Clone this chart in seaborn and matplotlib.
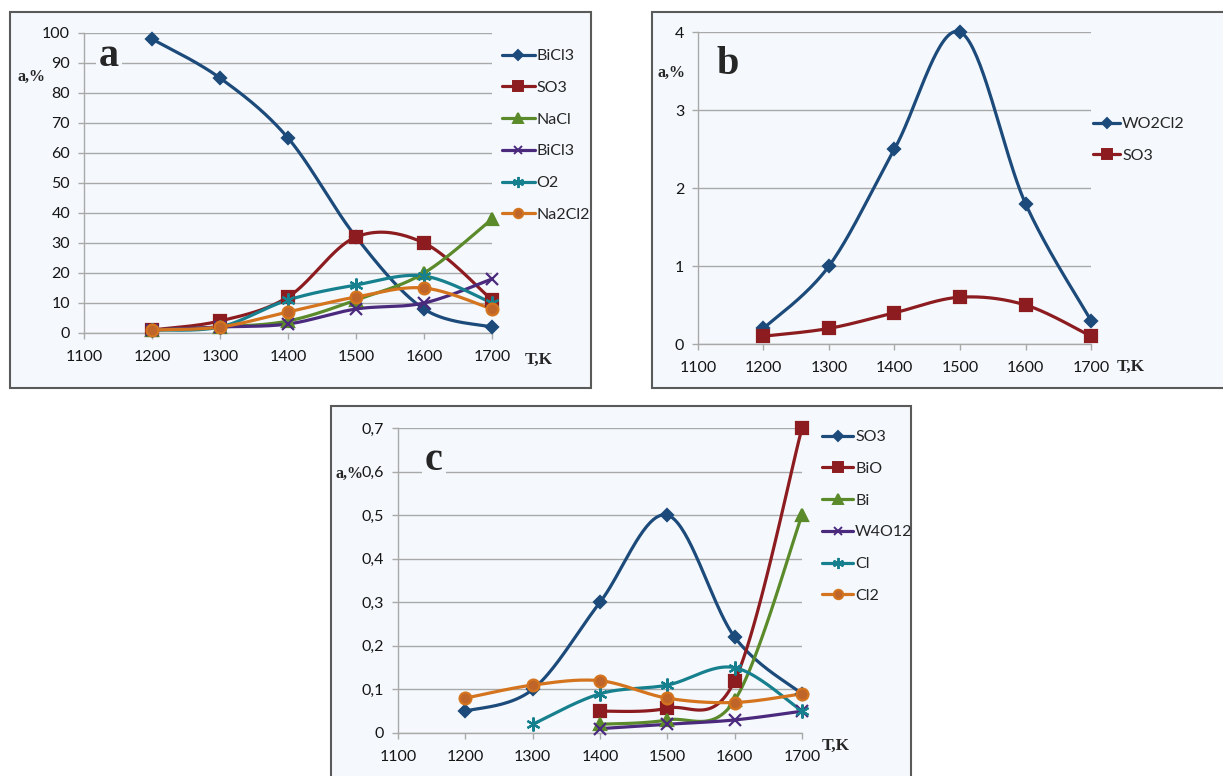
import numpy as np
import matplotlib
matplotlib.use("Agg")
import matplotlib.pyplot as plt
import seaborn as sns
from matplotlib.lines import Line2D
from matplotlib.patches import Rectangle
from matplotlib.ticker import FuncFormatter

# data
T = [1200, 1300, 1400, 1500, 1600, 1700]
nan = np.nan

a_names = ["BiCl3", "SO3", "NaCl", "BiCl3", "O2", "Na2Cl2"]
a_bicl3 = [98, 85, 65, 32, 8, 2]
a_so3 = [1, 4, 12, 32, 30, 11]
a_nacl = [1, 2, 4, 11, 20, 38]
a_bicl3_x = [1, 2, 3, 8, 10, 18]
a_o2 = [1, 2, 11, 16, 19, 10]
a_na2cl2 = [1, 2, 7, 12, 15, 8]

b_names = ["WO2Cl2", "SO3"]
b_wo2cl2 = [0.2, 1.0, 2.5, 4.0, 1.8, 0.3]
b_so3 = [0.1, 0.2, 0.4, 0.6, 0.5, 0.1]

c_names = ["SO3", "BiO", "Bi", "W4O12", "Cl", "Cl2"]
c_so3 = [0.05, 0.10, 0.30, 0.50, 0.22, 0.09]
c_bio = [nan, nan, 0.05, 0.057, 0.12, 0.70]
c_bi = [nan, nan, 0.02, 0.03, 0.075, 0.50]
c_w4o12 = [nan, nan, 0.01, 0.02, 0.03, 0.05]
c_cl = [nan, 0.02, 0.09, 0.11, 0.15, 0.05]
c_cl2 = [0.08, 0.11, 0.12, 0.08, 0.07, 0.09]

# style per series slot (Excel-like)
colors = ["#1c4a7a", "#8c1c1f", "#5a8a2a", "#4b2a7e", "#17808e", "#d4741e"]
mfc = ["#1c4a7a", "#8c1c1f", "#5a8a2a", "#4b2a7e", "#17808e", "#c0652a"]
markers = ["D", "s", "^", "x", (6, 2, 0), "o"]
msizes = [6.5, 9, 8.5, 8, 10, 8.5]

W, H = 1223, 776
BG = "#f5f9fd"

sns.set_style("white")
plt.rcParams["font.family"] = ["Lato", "DejaVu Sans"]


def box(x, y, w, h):
    return [x / W, 1 - (y + h) / H, w / W, h / H]


def smooth(x, y, n=40):
    # Excel style smoothing: cubic bezier, control points at 1/6 of neighbour span
    x = np.asarray(x, float)
    y = np.asarray(y, float)
    ok = ~np.isnan(y)
    p = np.column_stack([x[ok], y[ok]])
    out = []
    t = np.linspace(0, 1, n)[:, None]
    for i in range(len(p) - 1):
        p0 = p[max(i - 1, 0)]
        p3 = p[min(i + 2, len(p) - 1)]
        a, b = p[i], p[i + 1]
        c1 = a + (b - p0) / 6
        c2 = b - (p3 - a) / 6
        seg = (1 - t) ** 3 * a + 3 * (1 - t) ** 2 * t * c1 + 3 * (1 - t) * t ** 2 * c2 + t ** 3 * b
        out.append(seg if i == 0 else seg[1:])
    s = np.vstack(out)
    return s[:, 0], s[:, 1]


def draw_panel(ax, series, ymax, ystep, comma=False):
    for k, ys in enumerate(series):
        sx, sy = smooth(T, ys)
        sns.lineplot(x=sx, y=sy, ax=ax, color=colors[k], lw=2.3,
                     estimator=None, sort=False, clip_on=False, zorder=3)
        ax.plot(T, ys, ls="none", marker=markers[k], ms=msizes[k],
                color=colors[k], mfc=mfc[k], mec=colors[k], mew=1.6,
                clip_on=False, zorder=4)
    ax.set_xlim(1100, 1700)
    ax.set_ylim(0, ymax)
    ax.set_xticks(range(1100, 1701, 100))
    ax.set_yticks(np.round(np.arange(0, ymax + ystep / 2, ystep), 3))
    if comma:
        ax.yaxis.set_major_formatter(
            FuncFormatter(lambda v, p: ("%g" % round(v, 2)).replace(".", ",")))
    ax.set_facecolor("none")
    ax.grid(axis="y", color="#a9a9a9", lw=1)
    ax.grid(axis="x", visible=False)
    ax.set_axisbelow(True)
    for s in ["top", "right"]:
        ax.spines[s].set_visible(False)
    for s in ["left", "bottom"]:
        ax.spines[s].set_color("#a9a9a9")
        ax.spines[s].set_linewidth(1)
    ax.tick_params(bottom=True, left=True, length=4, width=1, color="#a9a9a9",
                   labelsize=11.5, labelcolor="#151515")
    ax.tick_params(axis="x", pad=8)
    ax.tick_params(axis="y", pad=6)
    ax.set_xlabel("")
    ax.set_ylabel("")


def legend(names, n, x, y, hl):
    hs = [Line2D([], [], color=colors[k], lw=2.3, marker=markers[k],
                 ms=msizes[k] * 0.8, mfc=mfc[k], mec=colors[k], mew=1.4)
          for k in range(n)]
    fig.legend(hs, names, loc="upper left", bbox_to_anchor=(x / W, 1 - y / H),
               frameon=False, fontsize=11.5, labelspacing=1.1, handlelength=hl,
               handletextpad=0.12, borderpad=0, borderaxespad=0)


fig = plt.figure(figsize=(W / 100, H / 100), dpi=100)

# panel frames
for (x0, y0, x1, y1) in [(10, 12, 591, 388), (652, 12, 1240, 388), (331, 406, 911, 792)]:
    fig.patches.append(Rectangle((x0 / W, 1 - y1 / H), (x1 - x0) / W, (y1 - y0) / H,
                                 transform=fig.transFigure, facecolor=BG,
                                 edgecolor="#5a5a5a", lw=1.5, zorder=-1))

serif = ["Liberation Serif", "DejaVu Serif"]

# panel a
ax_a = fig.add_axes(box(84, 33, 408, 300))
draw_panel(ax_a, [a_bicl3, a_so3, a_nacl, a_bicl3_x, a_o2, a_na2cl2], 100, 10)
legend(a_names, 6, 502, 49, 2.05)
fig.text(18 / W, 1 - 77 / H, "a,%", family=serif, weight="bold", fontsize=11.5, va="center")
fig.text(525 / W, 1 - 360 / H, "T,K", family=serif, weight="bold", fontsize=12.5, va="center")
fig.text(109 / W, 1 - 57 / H, "a", family=serif, weight="bold", fontsize=29, va="center",
         ha="center", bbox=dict(facecolor=BG, edgecolor="none", pad=2))

# panel b
ax_b = fig.add_axes(box(698, 32, 393, 312))
draw_panel(ax_b, [b_wo2cl2, b_so3], 4, 1)
legend(b_names, 2, 1093, 117, 1.7)
fig.text(658 / W, 1 - 73 / H, "a,%", family=serif, weight="bold", fontsize=11.5, va="center")
fig.text(1117 / W, 1 - 367 / H, "T,K", family=serif, weight="bold", fontsize=12.5, va="center")
fig.text(728 / W, 1 - 64 / H, "b", family=serif, weight="bold", fontsize=29, va="center",
         ha="center", bbox=dict(facecolor=BG, edgecolor="none", pad=2))

# panel c
ax_c = fig.add_axes(box(398, 428, 404, 305))
draw_panel(ax_c, [c_so3, c_bio, c_bi, c_w4o12, c_cl, c_cl2], 0.7, 0.1, comma=True)
legend(c_names, 6, 822, 430, 1.95)
fig.text(335 / W, 1 - 474 / H, "a,%", family=serif, weight="bold", fontsize=11.5, va="center")
fig.text(822 / W, 1 - 746 / H, "T,K", family=serif, weight="bold", fontsize=12.5, va="center")
fig.text(434 / W, 1 - 461 / H, "c", family=serif, weight="bold", fontsize=29, va="center",
         ha="center", bbox=dict(facecolor=BG, edgecolor="none", pad=2))

fig.savefig("out.png", dpi=100)
